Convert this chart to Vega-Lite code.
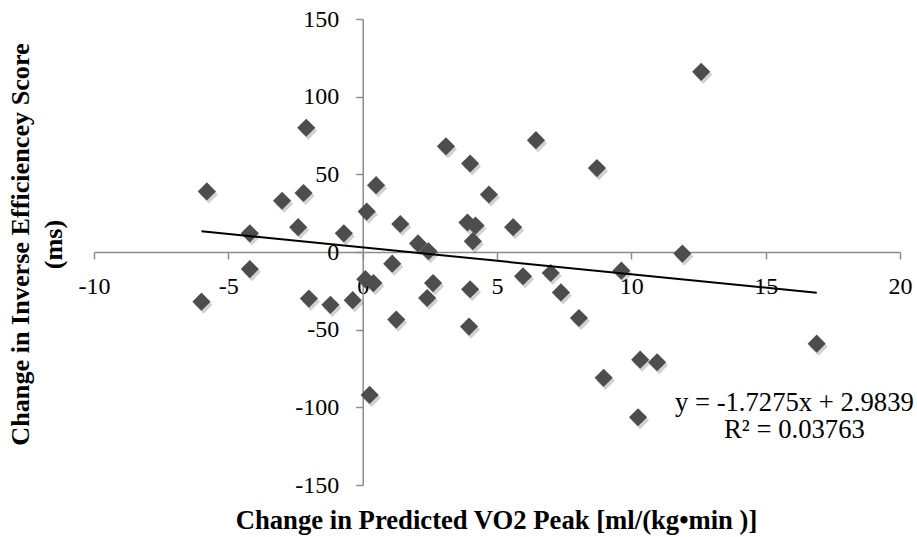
{
  "$schema": "https://vega.github.io/schema/vega-lite/v6.json",
  "width": 806,
  "height": 466,
  "autosize": {"type": "none"},
  "padding": {"left": 94, "top": 19, "right": 17, "bottom": 52},
  "background": "white",
  "config": {"view": {"stroke": null}, "font": "Liberation Serif"},
  "datasets": {
    "points": [
      {"x": -5.8, "y": 39}, {"x": -2.1, "y": 80}, {"x": -4.2, "y": 12}, {"x": -3.0, "y": 33},
      {"x": -2.2, "y": 38}, {"x": -2.4, "y": 16}, {"x": -0.7, "y": 12}, {"x": 0.15, "y": 26},
      {"x": 0.5, "y": 43}, {"x": 3.1, "y": 68}, {"x": 4.0, "y": 57}, {"x": 6.45, "y": 72},
      {"x": 4.7, "y": 37}, {"x": 1.4, "y": 18}, {"x": 3.9, "y": 19}, {"x": 4.2, "y": 17},
      {"x": 4.1, "y": 7}, {"x": 5.6, "y": 16}, {"x": 2.06, "y": 5.5}, {"x": 2.45, "y": 0.5},
      {"x": -4.2, "y": -11}, {"x": 1.1, "y": -7.5}, {"x": -6.0, "y": -32}, {"x": -2.0, "y": -30},
      {"x": -1.2, "y": -34}, {"x": -0.37, "y": -31}, {"x": 0.1, "y": -17.5}, {"x": 0.4, "y": -20},
      {"x": 1.25, "y": -43.5}, {"x": 2.62, "y": -20}, {"x": 2.4, "y": -29.6}, {"x": 4.0, "y": -24},
      {"x": 3.96, "y": -48}, {"x": 0.26, "y": -92}, {"x": 5.97, "y": -15.6}, {"x": 7.0, "y": -13.5},
      {"x": 12.6, "y": 116}, {"x": 8.72, "y": 54}, {"x": 11.9, "y": -1}, {"x": 9.63, "y": -12},
      {"x": 7.38, "y": -26}, {"x": 8.05, "y": -42.5}, {"x": 16.9, "y": -59}, {"x": 10.33, "y": -69.3},
      {"x": 10.96, "y": -71}, {"x": 8.97, "y": -81}, {"x": 10.25, "y": -106.4}
    ],
    "trend": [
      {"x": -6.0, "y": 13.349},
      {"x": 16.9, "y": -26.211}
    ],
    "labels": [
      {"x": 16.07, "y": -102.6, "text": "y = -1.7275x + 2.9839"},
      {"x": 16.07, "y": -119.7, "text": "R² = 0.03763"}
    ]
  },
  "encoding": {
    "x": {
      "field": "x",
      "type": "quantitative",
      "scale": {"domain": [-10, 20], "nice": false, "zero": false},
      "axis": {
        "orient": "bottom",
        "offset": -233,
        "values": [-10, -5, 0, 5, 10, 15, 20],
        "labelExpr": "toString(datum.value)",
        "grid": false,
        "domainColor": "#8c8c8c",
        "domainWidth": 1.5,
        "tickColor": "#8c8c8c",
        "tickWidth": 1.5,
        "tickSize": 7,
        "labelFont": "Liberation Serif",
        "labelFontSize": 24,
        "labelColor": "black",
        "labelPadding": 15,
        "labelFlush": false,
        "labelOverlap": false,
        "title": "Change in Predicted VO2 Peak [ml/(kg•min )]",
        "titleFont": "Liberation Serif",
        "titleFontSize": 26.67,
        "titleFontWeight": "bold",
        "titleColor": "black",
        "titleX": 402,
        "titleY": 276,
        "titleAlign": "center",
        "titleBaseline": "alphabetic"
      }
    },
    "y": {
      "field": "y",
      "type": "quantitative",
      "scale": {"domain": [-150, 150], "nice": false, "zero": false},
      "axis": {
        "orient": "left",
        "offset": -268.7,
        "values": [-150, -100, -50, 0, 50, 100, 150],
        "labelExpr": "toString(datum.value)",
        "grid": false,
        "domainColor": "#8c8c8c",
        "domainWidth": 1.5,
        "tickColor": "#8c8c8c",
        "tickWidth": 1.5,
        "tickSize": 7,
        "labelFont": "Liberation Serif",
        "labelFontSize": 24,
        "labelColor": "black",
        "labelPadding": 17,
        "labelFlush": false,
        "labelOverlap": false,
        "title": ["Change in Inverse Efficiencey Score", "(ms)"],
        "titleFont": "Liberation Serif",
        "titleFontSize": 26.2,
        "titleFontWeight": "bold",
        "titleColor": "black",
        "titleAngle": 270,
        "titleX": -334.2,
        "titleY": 225,
        "titleAlign": "center",
        "titleBaseline": "alphabetic",
        "titleLineHeight": 33
      }
    }
  },
  "layer": [
    {
      "data": {"name": "points"},
      "mark": {"type": "point", "shape": "diamond", "filled": true, "size": 330, "color": "#000000", "opacity": 0.18, "xOffset": 2, "yOffset": 3}
    },
    {
      "data": {"name": "points"},
      "mark": {"type": "point", "shape": "diamond", "filled": true, "size": 330, "color": "#4d4d4d", "opacity": 1}
    },
    {
      "data": {"name": "trend"},
      "mark": {"type": "line", "color": "black", "strokeWidth": 2}
    },
    {
      "data": {"name": "labels"},
      "mark": {"type": "text", "font": "Liberation Serif", "fontSize": 26.67, "color": "black", "align": "center", "baseline": "alphabetic"},
      "encoding": {"text": {"field": "text", "type": "nominal"}}
    }
  ]
}
